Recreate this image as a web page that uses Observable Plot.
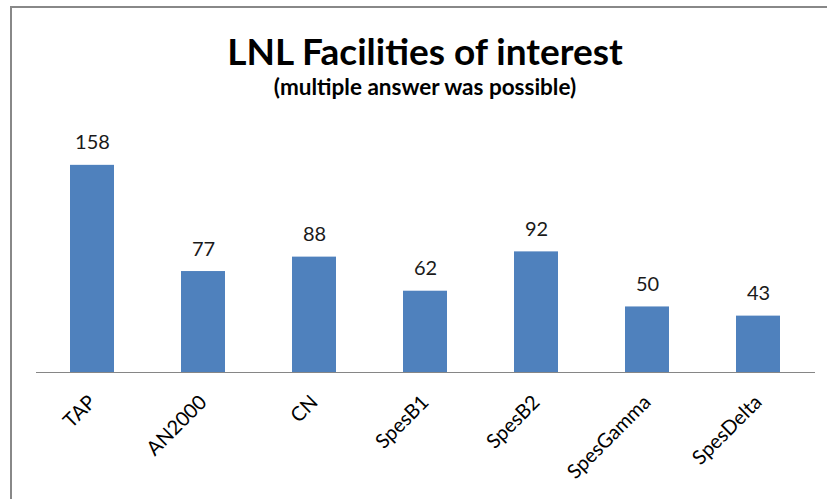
<!DOCTYPE html>
<html>
<head>
<meta charset="utf-8">
<script src="https://cdn.jsdelivr.net/npm/d3@7"></script>
<script src="https://cdn.jsdelivr.net/npm/@observablehq/plot@0.6"></script>
<style>
  html, body { margin: 0; padding: 0; background: #fff; }
  #wrap { position: relative; width: 827px; height: 499px; overflow: hidden; background: #fff; font-family: Lato, "Open Sans", sans-serif; }
  #frame { position: absolute; left: 10px; top: 6px; width: 900px; height: 600px; border-top: 2px solid #888; border-left: 2px solid #888; }
  #title { position: absolute; left: 0; width: 850px; text-align: center; top: 32px; font-size: 37px; line-height: 37px; font-weight: 700; color: #000; }
  #subtitle { position: absolute; left: 0; width: 850px; text-align: center; top: 76px; font-size: 22.5px; line-height: 22.5px; font-weight: 700; color: #000; }
  #chart { position: absolute; left: 0; top: 110px; }
</style>
</head>
<body>
<div id="wrap">
  <div id="frame"></div>
  <div id="title"></div>
  <div id="subtitle"></div>
  <div id="chart"></div>
</div>
<script>
const titleText = "LNL Facilities of interest";
const subtitleText = "(multiple answer was possible)";
const facilities = ["TAP", "AN2000", "CN", "SpesB1", "SpesB2", "SpesGamma", "SpesDelta"];
const counts = [158, 77, 88, 62, 92, 50, 43];

document.getElementById("title").textContent = titleText;
document.getElementById("subtitle").textContent = subtitleText;

const data = facilities.map((name, i) => ({name, count: counts[i]}));

const chart = Plot.plot({
  width: 827,
  height: 389,
  marginTop: 26,
  marginBottom: 127,
  marginLeft: 36,
  marginRight: 12,
  style: {fontFamily: "Lato, 'Open Sans', sans-serif", fontSize: "18px", color: "#000", background: "transparent", overflow: "visible"},
  x: {domain: facilities, paddingInner: 0.6, paddingOuter: 0.3, axis: null},
  y: {domain: [0, 180], axis: null},
  marks: [
    Plot.barY(data, {x: "name", y: "count", fill: "#4F81BD"}),
    Plot.ruleY([0], {stroke: "#868686", strokeWidth: 1.2}),
    Plot.text(data, {x: "name", y: "count", text: d => String(d.count), dy: -16, lineAnchor: "bottom", fontSize: 20, fill: "#1a1a1a"}),
    Plot.text(data, {x: "name", frameAnchor: "bottom", text: "name", rotate: -45, textAnchor: "end", lineAnchor: "bottom", dx: 4.5, dy: 31, fontSize: 20, fill: "#000"})
  ]
});
document.getElementById("chart").appendChild(chart);
</script>
</body>
</html>
